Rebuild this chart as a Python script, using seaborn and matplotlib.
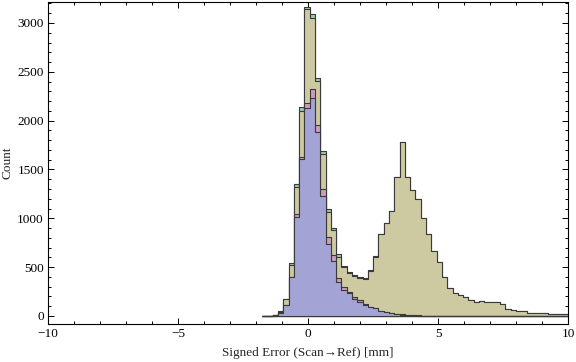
import matplotlib
matplotlib.use("Agg")
import matplotlib.pyplot as plt
from matplotlib.ticker import MultipleLocator
import numpy as np
import pandas as pd
import seaborn as sns

# bins: 58 equal bins starting near -1.77 mm
bin_lo = -1.767
bin_w = 0.2035
n_bins = 58
edges = bin_lo + bin_w * np.arange(n_bins + 1)
centers = edges[:-1] + bin_w / 2

# counts per bin, one list per series (drawn back to front)
green = [3, 3, 13, 48, 177, 539, 1348, 2135, 3160, 3089,
         2434, 1692, 1092, 904, 632, 515, 454, 420, 398, 388,
         470, 610, 838, 950, 1080, 1420, 1785, 1427, 1290, 1195,
         1000, 836, 665, 556, 396, 283, 232, 215, 191, 164,
         143, 150, 143, 140, 140, 120, 72, 58, 48, 48,
         28, 28, 28, 28, 17, 17, 17, 17]
khaki = [3, 3, 13, 44, 171, 525, 1324, 2099, 3140, 3048,
         2406, 1658, 1065, 880, 607, 498, 437, 413, 392, 379,
         464, 607, 836, 949, 1078, 1420, 1785, 1427, 1290, 1195,
         1000, 836, 665, 556, 396, 283, 232, 215, 191, 164,
         143, 150, 143, 140, 140, 120, 72, 58, 48, 48,
         28, 28, 28, 28, 17, 17, 17, 17]
pink = [3, 3, 10, 30, 115, 400, 1042, 1631, 2184, 2321,
        1955, 1297, 806, 625, 392, 300, 242, 191, 165, 125,
        96, 82, 56, 42, 30, 20, 16, 12, 8, 6,
        4, 2, 1, 1, 1, 1, 0, 0, 0, 0,
        0, 0, 0, 0, 0, 0, 0, 0, 0, 0,
        0, 0, 0, 0, 0, 0, 0, 0]
blue = [3, 3, 10, 28, 112, 396, 1017, 1604, 2126, 2229,
        1880, 1229, 734, 566, 345, 266, 232, 174, 146, 113,
        89, 80, 54, 41, 28, 18, 14, 10, 7, 5,
        3, 2, 1, 1, 1, 1, 0, 0, 0, 0,
        0, 0, 0, 0, 0, 0, 0, 0, 0, 0,
        0, 0, 0, 0, 0, 0, 0, 0]

colors = ["#9ccaa9", "#cdc9a1", "#cc9cba", "#a3a3d5"]

sns.set_style("ticks")
plt.rcParams['font.family'] = ['Liberation Serif', 'DejaVu Serif']
plt.rcParams['font.size'] = 9.5

fig = plt.figure(figsize=(5.76, 3.62), dpi=100)
ax = fig.add_axes([48 / 576, 1 - 324 / 362, 520 / 576, 322 / 362])

for vals, col in zip([green, khaki, pink, blue], colors):
    df = pd.DataFrame({"err": centers, "n": vals})
    sns.histplot(data=df, x="err", weights="n", bins=list(edges), element="step",
                 fill=True, color=col, alpha=1, edgecolor="#3a3a3a",
                 linewidth=0.8, ax=ax)

ax.set_xlim(-10, 10)
ax.set_ylim(-82, 3215)
ax.xaxis.set_major_locator(MultipleLocator(5))
ax.xaxis.set_minor_locator(MultipleLocator(1))
ax.yaxis.set_major_locator(MultipleLocator(500))
ax.yaxis.set_minor_locator(MultipleLocator(100))
ax.tick_params(which="both", direction="in", top=True, right=True,
               width=0.7, colors="black", labelsize=9.5)
ax.tick_params(which="major", length=4, pad=3)
ax.tick_params(which="minor", length=2)
for sp in ax.spines.values():
    sp.set_linewidth(0.8)
    sp.set_color("black")

ax.set_xlabel("Signed Error (Scan→Ref) [mm]", labelpad=5)
ax.set_ylabel("Count", labelpad=3)

fig.savefig("out.png", dpi=100)
